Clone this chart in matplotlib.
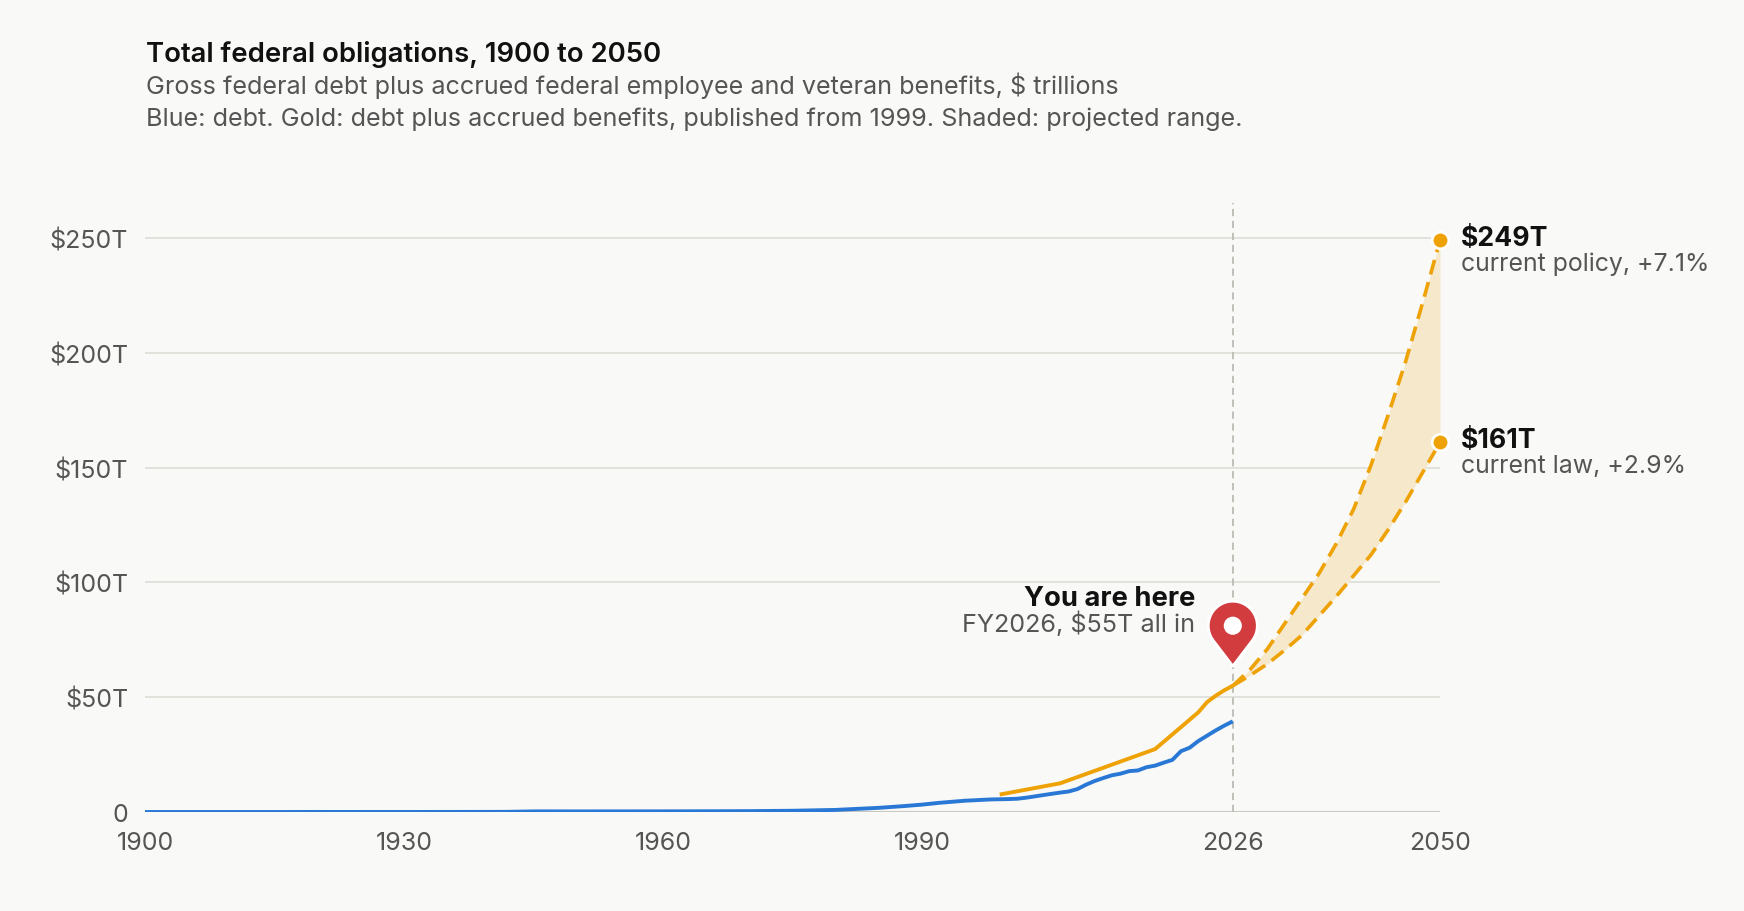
import numpy as np
import matplotlib
matplotlib.use("Agg")
import matplotlib.pyplot as plt
from matplotlib.path import Path
from matplotlib.patches import PathPatch, Circle
import matplotlib.transforms as mtransforms

plt.rcParams['font.family'] = ['Inter', 'DejaVu Sans']
plt.rcParams['text.parse_math'] = False

# gross federal debt, $T
debt_years = [1900, 1910, 1916, 1919, 1930, 1935, 1940, 1942, 1943, 1944, 1945, 1946,
              1950, 1955, 1960, 1965, 1970, 1975, 1980, 1985, 1988, 1990, 1992, 1995,
              1998, 2000, 2001, 2002, 2003, 2004, 2005, 2006, 2007, 2008, 2009, 2010,
              2011, 2012, 2013, 2014, 2015, 2016, 2017, 2018, 2019, 2020, 2021, 2022,
              2023, 2024, 2025, 2026]
debt = [0.0012, 0.0011, 0.0012, 0.0255, 0.0162, 0.0287, 0.051, 0.077, 0.141, 0.204, 0.26, 0.271,
        0.257, 0.274, 0.29, 0.322, 0.381, 0.542, 0.909, 1.82, 2.6, 3.21, 4.0, 4.92,
        5.48, 5.63, 5.77, 6.2, 6.76, 7.35, 7.91, 8.45, 8.95, 9.99, 11.9, 13.5,
        14.8, 16.0, 16.7, 17.8, 18.1, 19.5, 20.2, 21.5, 22.7, 26.5, 28.0, 30.9,
        33.2, 35.5, 37.6, 39.5]

# debt plus accrued benefits, published from 1999
allin_years = [1999, 2006, 2017, 2022, 2023, 2024, 2025, 2026]
allin = [7.6, 12.5, 27.4, 43.4, 47.8, 50.6, 53.0, 55.0]

# projections to 2050
proj_years = [2026, 2028, 2030, 2032, 2034, 2036, 2038, 2040, 2042, 2044, 2046, 2048, 2050]
proj_policy = [55, 62, 71, 82, 93, 104, 117, 132, 151, 173, 196, 222, 249]
proj_law = [55, 59.5, 64.5, 70.5, 77, 85.5, 94, 103, 112, 123, 135, 148, 161]

ytick_vals = [0, 50, 100, 150, 200, 250]
ytick_labels = ['0', '$50T', '$100T', '$150T', '$200T', '$250T']
xtick_vals = [1900, 1930, 1960, 1990, 2026, 2050]

BG = '#f9f9f7'
BLUE = '#2a78d6'
GOLD = '#eea206'
RED = '#d23c3f'
GRAY = '#555555'

W, H = 1744, 912
fig = plt.figure(figsize=(W / 100, H / 100), dpi=100, facecolor=BG)
ax = fig.add_axes([145 / W, 1 - 813 / H, (1440 - 145) / W, (813 - 204) / H])
ax.set_facecolor(BG)
ax.set_xlim(1900, 2050)
ax.set_ylim(0, 265.3)

for v in ytick_vals[1:]:
    ax.axhline(v, color='#e0e0da', lw=1.3, zorder=0)
ax.axhline(0, color='#c9c9c1', lw=1.5, zorder=0.5)
ax.axvline(2026, color='#bcbcb4', lw=1.3, ls=(0, (4, 2.6)), zorder=1.5)

ax.fill_between(proj_years, proj_law, proj_policy, color='#f5e8cb', lw=0, zorder=1)
ax.plot(debt_years, debt, color=BLUE, lw=2.8, solid_capstyle='butt', zorder=3)
ax.plot(allin_years, allin, color=GOLD, lw=2.8, solid_capstyle='butt', zorder=3)
ax.plot(proj_years, proj_policy, color=GOLD, lw=2.6, ls=(0, (4.2, 2.2)), zorder=3)
ax.plot(proj_years, proj_law, color=GOLD, lw=2.6, ls=(0, (4.2, 2.2)), zorder=3)

ax.plot([proj_years[-1]] * 2, [proj_policy[-1], proj_law[-1]], 'o', ms=12,
        color=GOLD, mec='white', mew=2, zorder=5, clip_on=False)

end_labels = [(proj_policy[-1], '$249T', 'current policy, +7.1%'),
              (proj_law[-1], '$161T', 'current law, +2.9%')]
for val, big, small in end_labels:
    ax.annotate(big, (2050, val), xytext=(15, -3), textcoords='offset points',
                ha='left', va='baseline', fontsize=19.2, fontweight='bold', color='#111111')
    ax.annotate(small, (2050, val), xytext=(15, -21.6), textcoords='offset points',
                ha='left', va='baseline', fontsize=17.9, color=GRAY)

# "you are here" pin
here = (2026, allin[-1])
ax.annotate('You are here', here, xytext=(-27, 58), textcoords='offset points',
            ha='right', va='baseline', fontsize=19.7, fontweight='bold', color='#111111')
ax.annotate('FY2026, $55T all in', here, xytext=(-27, 39.4), textcoords='offset points',
            ha='right', va='baseline', fontsize=18.1, color=GRAY)

r_px = 24.5
tip, cen = 0.8, 2.45
d = cen - tip
phi = np.degrees(np.arccos(1 / d))
ang = np.radians(np.linspace(-90 + phi, 270 - phi, 60))
verts = [(np.cos(a), cen + np.sin(a)) for a in ang] + [(0, tip), (0, tip)]
codes = [Path.MOVETO] + [Path.LINETO] * (len(verts) - 2) + [Path.CLOSEPOLY]
pin_tr = (mtransforms.Affine2D().scale(r_px * fig.dpi / 100)
          + mtransforms.ScaledTranslation(here[0], here[1], ax.transData))
ax.add_patch(PathPatch(Path(verts, codes), facecolor=RED, edgecolor='white', lw=2.0,
                       joinstyle='round', transform=pin_tr, zorder=6, clip_on=False))
ax.add_patch(Circle((0, cen), 0.37, facecolor='white', edgecolor='none',
                    transform=pin_tr, zorder=7, clip_on=False))

ax.set_yticks(ytick_vals, ytick_labels)
ax.set_xticks(xtick_vals, [str(x) for x in xtick_vals])
ax.tick_params(axis='both', length=0, labelsize=18, labelcolor=GRAY)
ax.tick_params(axis='y', pad=12)
ax.tick_params(axis='x', pad=14)
for s in ax.spines.values():
    s.set_visible(False)

fig.text(146 / W, 1 - 62 / H, 'Total federal obligations, 1900 to 2050', fontsize=19.8,
         fontweight='semibold', color='#111111', va='baseline')
fig.text(146 / W, 1 - 94 / H,
         'Gross federal debt plus accrued federal employee and veteran benefits, $ trillions',
         fontsize=18.1, color=GRAY, va='baseline')
fig.text(146 / W, 1 - 126 / H,
         'Blue: debt. Gold: debt plus accrued benefits, published from 1999. Shaded: projected range.',
         fontsize=18.1, color=GRAY, va='baseline')

fig.savefig('out.png', dpi=100, facecolor=BG)
